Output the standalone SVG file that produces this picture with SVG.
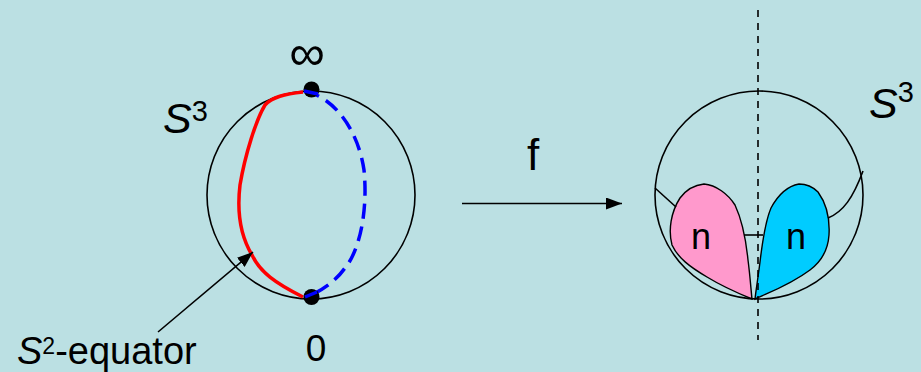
<svg xmlns="http://www.w3.org/2000/svg" width="921" height="372" viewBox="0 0 921 372">
<defs>
<style>
.t{font-family:"Liberation Sans",Arial,sans-serif;fill:#000}
.ln{fill:none;stroke:#000;stroke-width:1.6}
</style>
<marker id="ah2" viewBox="0 0 16 12" refX="16" refY="6" markerWidth="16" markerHeight="12" markerUnits="userSpaceOnUse" orient="auto">
<path d="M0,0L16,6L0,12z" fill="#000"/>
</marker>
</defs>
<rect width="921" height="372" fill="#BBE0E3"/>

<g id="left-sphere">
<circle cx="311" cy="195" r="104" class="ln"/>
<path d="M303,92 C285,94 272,97 265,105 C256,120 245,155 240,185 C237,210 240,235 252,255 C260,272 275,283 303,297" fill="none" stroke="#FF0000" stroke-width="3.5"/>
<path d="M305,91 C335,98 358,130 364,170 C368,210 360,250 345,268 C335,282 320,292 306,297" fill="none" stroke="#0000FF" stroke-width="3.5" stroke-dasharray="15,8"/>
<circle cx="311.5" cy="89.5" r="8" fill="#000"/>
<circle cx="311.5" cy="297" r="8" fill="#000"/>
<path d="M304,91 L318,94" stroke="#0000FF" stroke-width="3.5"/>
<path d="M305,297 L317,292" stroke="#0000FF" stroke-width="3.5"/>
<text class="t" x="163" y="133" font-size="43" font-style="italic">S<tspan font-size="29" font-style="normal" dy="-12">3</tspan></text>
<text class="t" x="307" y="70" font-size="50" text-anchor="middle">∞</text>
<text class="t" x="316" y="361" font-size="37" text-anchor="middle">0</text>
<text class="t" x="17" y="364" font-size="38"><tspan font-style="italic">S</tspan><tspan font-size="23" dy="-10">2</tspan><tspan dy="10">-equator</tspan></text>
</g>

<g id="right-sphere">
<path d="M752,299 C735,292 720,285 707,277 C690,267 678,258 672,245 C668,230 671,212 680,198 C686,190 694,185 704,184 C716,185 728,194 735,205 C742,220 746,240 748,260 C750,275 751,290 752,299 Z" fill="#FF99CC" stroke="#000" stroke-width="1.4"/>
<path d="M755,299 C770,292 790,285 810,270 C822,261 828,250 829,235 C830,218 826,203 818,192 C812,186 806,184 799,184 C788,186 778,195 771,208 C765,222 762,245 760,262 C758,278 756,290 755,299 Z" fill="#00CCFF" stroke="#000" stroke-width="1.4"/>
<circle cx="759" cy="195" r="104" class="ln"/>
<path d="M655,188 L676,207" class="ln"/>
<path d="M828,218 C843,212 853,198 863,171" class="ln"/>
<path d="M744,235 L763,235" class="ln"/>
<text class="t" x="701" y="249" font-size="36" text-anchor="middle">n</text>
<text class="t" x="796" y="249" font-size="36" text-anchor="middle">n</text>
<text class="t" x="869" y="118" font-size="43" font-style="italic">S<tspan font-size="29" font-style="normal" dy="-16">3</tspan></text>
</g>

<g id="connectors">
<path d="M758,10 L758,340" stroke="#000" stroke-width="1.6" stroke-dasharray="7,6" fill="none"/>
<path d="M158,332 L253,252" stroke="#000" stroke-width="1.6" marker-end="url(#ah2)"/>
<path d="M462,203.5 L622,203.5" stroke="#000" stroke-width="1.6" marker-end="url(#ah2)"/>
<text class="t" x="533" y="170" font-size="44" text-anchor="middle">f</text>
</g>
</svg>
